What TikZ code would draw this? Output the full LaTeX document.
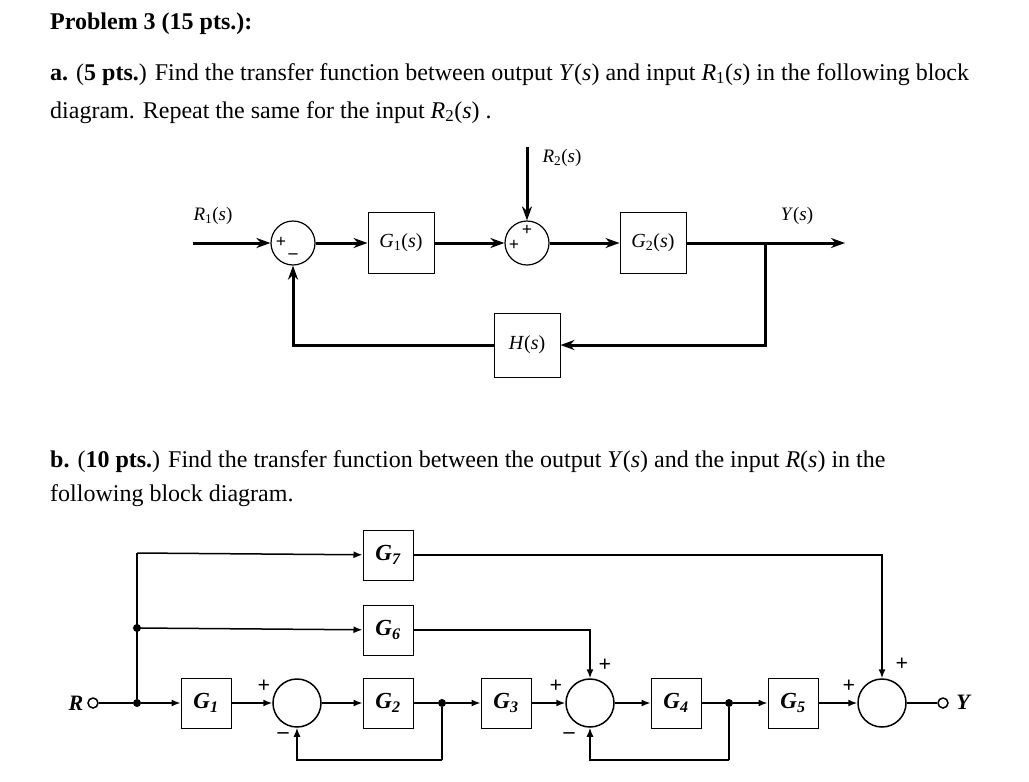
\documentclass[tikz,border=0pt]{standalone}
\usepackage{fontspec}
\setmainfont{Liberation Serif}
\usetikzlibrary{arrows.meta}
\begin{document}
\begin{tikzpicture}[x=1pt,y=-1pt,
  txt/.style={anchor=base west,inner sep=0pt,font=\fontsize{24}{28}\selectfont},
  ablk/.style={draw,line width=1pt,minimum width=66pt,minimum height=61pt,inner sep=0pt,font=\fontsize{20}{22}\selectfont},
  asum/.style={draw,circle,line width=1.2pt,minimum size=44pt,inner sep=0pt},
  aw/.style={line width=3pt,-{Stealth[length=14pt,width=10pt]}},
  bblk/.style={draw,line width=1pt,minimum width=50pt,minimum height=50pt,inner sep=0pt,font=\fontsize{23}{24}\selectfont\bfseries\itshape},
  bsum/.style={draw,circle,line width=1.5pt,minimum size=48pt,inner sep=0pt},
  bw/.style={line width=1.5pt,-{Latex[length=9pt,width=7pt]}},
  bl/.style={line width=1.5pt},
  dot/.style={circle,fill,inner sep=0pt,minimum size=8pt},
  sg/.style={font=\fontsize{22}{24}\selectfont\bfseries,inner sep=0pt},
  al/.style={font=\fontsize{19}{22}\selectfont},
  as/.style={font=\fontsize{18}{20}\selectfont\bfseries,inner sep=0pt}]
\useasboundingbox (0,0) rectangle (1029,782);
\node[txt] (t0) at (50,29) {\textbf{Problem 3 (15 pts.):}};
\node[txt] (t1) at (50,80) {\textbf{a.} (\textbf{5 pts.}) Find the transfer function between output \textit{Y}(\textit{s}) and input \textit{R}\textsubscript{1}(\textit{s}) in the following block};
\node[txt] (t2) at (50,118) {diagram. Repeat the same for the input \textit{R}\textsubscript{2}(\textit{s}) .};
\node[txt] (t3) at (50,467) {\textbf{b.} (\textbf{10 pts.}) Find the transfer function between the output \textit{Y}(\textit{s}) and the input \textit{R}(\textit{s}) in the};
\node[txt] (t4) at (50,501) {following block diagram.};
% part a
\coordinate (ain) at (193,243);
\node[asum] (s1) at (293,243) {};
\node[ablk] (g1) at (401,243) {\textit{G}\textsubscript{1}(\textit{s})};
\node[asum] (s2) at (527,243) {};
\coordinate (r2) at (527,147);
\node[ablk] (g2) at (653,243) {\textit{G}\textsubscript{2}(\textit{s})};
\coordinate (br) at (765,243);
\coordinate (aout) at (845,243);
\node[ablk,minimum width=66pt,minimum height=64pt] (h) at (527,345) {\textit{H}(\textit{s})};
\draw[aw] (ain) -- (s1);
\draw[aw] (s1) -- (g1);
\draw[aw] (g1) -- (s2);
\draw[aw] (r2) -- (s2);
\draw[aw] (s2) -- (g2);
\draw[aw] (g2) -- (aout);
\draw[aw] (br) |- (h);
\draw[aw] (h) -| (s1);
\node[al] (l1) at (213,216) {\textit{R}\textsubscript{1}(\textit{s})};
\node[al] (l2) at (562,158) {\textit{R}\textsubscript{2}(\textit{s})};
\node[al] (l3) at (797,216) {\textit{Y}(\textit{s})};
\node[as] (p1) at (281,242) {+};
\node[as] (m1) at (293,254) {\_};
\node[as] (p2) at (514,245) {+};
\node[as] (p3) at (527,230) {+};
% part b
\node[circle,draw,line width=1.5pt,inner sep=0pt,minimum size=10pt] (rin) at (93,703) {};
\node[font=\fontsize{22}{24}\selectfont\bfseries\itshape] (rl) at (76,703) {R};
\node[dot] (j0) at (137,703) {};
\node[dot] (j1) at (137,628) {};
\coordinate (c7) at (137,553);
\node[bblk] (b1) at (206,703) {G\textsubscript{1}};
\node[bsum] (bs1) at (297,703) {};
\node[bblk] (b2) at (388,703) {G\textsubscript{2}};
\node[dot] (j2) at (442,703) {};
\node[bblk] (b3) at (506,703) {G\textsubscript{3}};
\node[bsum] (bs2) at (590,703) {};
\node[bblk] (b4) at (676,703) {G\textsubscript{4}};
\node[dot] (j3) at (729,703) {};
\node[bblk] (b5) at (793,703) {G\textsubscript{5}};
\node[bsum] (bs3) at (882,703) {};
\node[circle,draw,line width=1.5pt,inner sep=0pt,minimum size=10pt] (yout) at (943,703) {};
\node[font=\fontsize{22}{24}\selectfont\bfseries\itshape] (yl) at (963,702) {Y};
\node[bblk] (b7) at (388,555) {G\textsubscript{7}};
\node[bblk] (b6) at (388,630) {G\textsubscript{6}};
\coordinate (f1) at (442,760);
\coordinate (f2) at (729,760);
\draw[bl] (rin) -- (j0);
\draw[bw] (j0) -- (b1);
\draw[bl] (j0) -- (c7);
\draw[bw] (c7) -- (b7);
\draw[bw] (j1) -- (b6);
\draw[bw] (b1) -- (bs1);
\draw[bw] (bs1) -- (b2);
\draw[bl] (b2) -- (j2);
\draw[bw] (j2) -- (b3);
\draw[bl] (j2) -- (f1);
\draw[bw] (f1) -| (bs1);
\draw[bw] (b3) -- (bs2);
\draw[bw] (bs2) -- (b4);
\draw[bl] (b4) -- (j3);
\draw[bw] (j3) -- (b5);
\draw[bl] (j3) -- (f2);
\draw[bw] (f2) -| (bs2);
\draw[bw] (b5) -- (bs3);
\draw[bl] (bs3) -- (yout);
\draw[bw] (b6) -| (bs2);
\draw[bw] (b7) -| (bs3);
\node[sg] (q1) at (264,686) {+};
\node[sg] (q2) at (283,736) {--};
\node[sg] (q3) at (556,686) {+};
\node[sg] (q4) at (569,736) {--};
\node[sg] (q5) at (605,665) {+};
\node[sg] (q6) at (849,686) {+};
\node[sg] (q7) at (902,664) {+};
\end{tikzpicture}
\end{document}
